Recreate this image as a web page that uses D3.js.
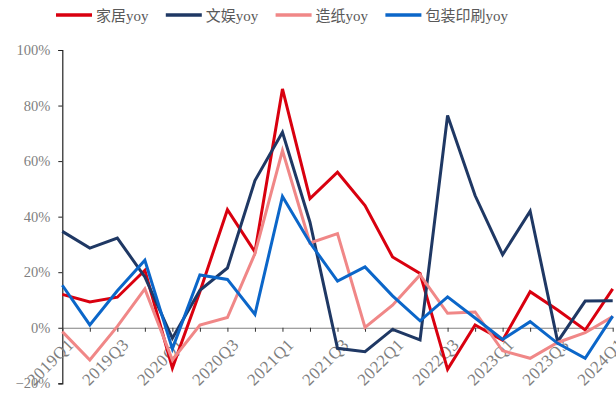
<!DOCTYPE html>
<html>
<head>
<meta charset="utf-8">
<script src="https://cdn.jsdelivr.net/npm/d3@7"></script>
<style>
  body { margin: 0; background: #fff; }
  text { font-family: "Liberation Serif", "Noto Sans CJK SC", serif; }
</style>
</head>
<body>
<div id="chart-area"></div>
<script>

// data
var quarters = ["2019Q1","2019Q2","2019Q3","2019Q4","2020Q1","2020Q2","2020Q3","2020Q4",
  "2021Q1","2021Q2","2021Q3","2021Q4","2022Q1","2022Q2","2022Q3","2022Q4",
  "2023Q1","2023Q2","2023Q3","2023Q4","2024Q1"];

var jiaju = [12, 9.3, 11, 20.7, -14.5, 13, 42.5, 27.3, 86, 46.5, 56, 44, 25.5, 19.5, -15, 1, -4.5, 13, 6.4, -0.8, 14];
var wenyu = [34.7, 28.7, 32.3, 18.3, -3.8, 13.5, 21.5, 53, 70.4, 38, -7.4, -8.6, -0.6, -4.4, 76.4, 47.6, 26.3, 42, -5, 9.6, 9.7];
var zaozhi = [-1.4, -11.6, 0.5, 14, -11.6, 1, 3.7, 26.7, 63.8, 30.5, 33.9, 0.1, 8.1, 19, 5.2, 5.7, -8.3, -11, -5.3, -1.8, 4];
var baozhuang = [15.3, 1, 13.3, 24.3, -7.6, 19, 17.4, 4.8, 47.3, 30.6, 16.8, 21.9, 11.5, 2.5, 11.1, 3.5, -4.2, 2.2, -5.6, -11, 4.2];

var seriesNames = ["家居yoy", "文娱yoy", "造纸yoy", "包装印刷yoy"];
var seriesColors = ["#d9000f", "#1f3864", "#f08787", "#0b66c9"];
var yTicks = [-20, 0, 20, 40, 60, 80, 100];

var allSeries = [jiaju, wenyu, zaozhi, baozhuang];

var width = 616, height = 397;

var svg = d3.select("#chart-area").append("svg")
    .attr("width", width)
    .attr("height", height);

// scales
var x = d3.scalePoint()
    .domain(quarters)
    .range([62.3, 612.7]);

var y = d3.scaleLinear()
    .domain([-20, 100])
    .range([383.3, 50]);

// y axis
var yAxis = d3.axisLeft(y)
    .tickValues(yTicks)
    .tickSize(4)
    .tickPadding(8)
    .tickFormat(function(d) { return (d < 0 ? "\u2212" + (-d) : d) + "%"; });

var yAxisGroup = svg.append("g")
    .attr("class", "y-axis axis")
    .attr("transform", "translate(" + x.range()[0] + ",0)")
    .call(yAxis);

yAxisGroup.select(".domain").attr("stroke", "#222").attr("stroke-width", 1.2);
yAxisGroup.selectAll(".tick line").attr("stroke", "#222");
yAxisGroup.selectAll(".tick text")
    .attr("fill", "#7f7f7f")
    .attr("font-size", 14.5)
    .attr("font-family", "Liberation Serif");

// x axis at 0%
var xAxis = d3.axisBottom(x)
    .tickSize(4)
    .tickSizeOuter(0)
    .tickFormat(function(d, i) { return i % 2 == 0 ? d : ""; });

var xAxisGroup = svg.append("g")
    .attr("class", "x-axis axis")
    .attr("transform", "translate(0," + y(0) + ")")
    .call(xAxis);

xAxisGroup.select(".domain").attr("stroke", "#808080").attr("stroke-width", 1.2);
xAxisGroup.selectAll(".tick line").attr("stroke", "#333");
xAxisGroup.selectAll(".tick text")
    .attr("fill", "#7f7f7f")
    .attr("font-size", 17)
    .attr("font-family", "Liberation Serif")
    .attr("letter-spacing", 0.5)
    .attr("text-anchor", "end")
    .attr("dy", 0)
    .attr("transform", "translate(7,13) rotate(-45)");

// lines
var line = d3.line()
    .x(function(d, i) { return x(quarters[i]); })
    .y(function(d) { return y(d); });

svg.selectAll(".series")
    .data(allSeries)
  .enter().append("path")
    .attr("class", "series")
    .attr("fill", "none")
    .attr("stroke", function(d, i) { return seriesColors[i]; })
    .attr("stroke-width", 3)
    .attr("stroke-linejoin", "miter")
    .attr("d", line);

// legend
var legend = svg.selectAll(".legend")
    .data(seriesNames)
  .enter().append("g")
    .attr("class", "legend")
    .attr("transform", function(d, i) { return "translate(" + (56 + i * 109.8) + ",15)"; });

legend.append("line")
    .attr("x1", 0).attr("x2", 36)
    .attr("y1", 0).attr("y2", 0)
    .attr("stroke", function(d, i) { return seriesColors[i]; })
    .attr("stroke-width", 3.5);

legend.append("text")
    .attr("x", 40)
    .attr("y", 5.5)
    .attr("fill", "#595959")
    .attr("font-size", 15)
    .text(function(d) { return d; });

</script>
</body>
</html>
